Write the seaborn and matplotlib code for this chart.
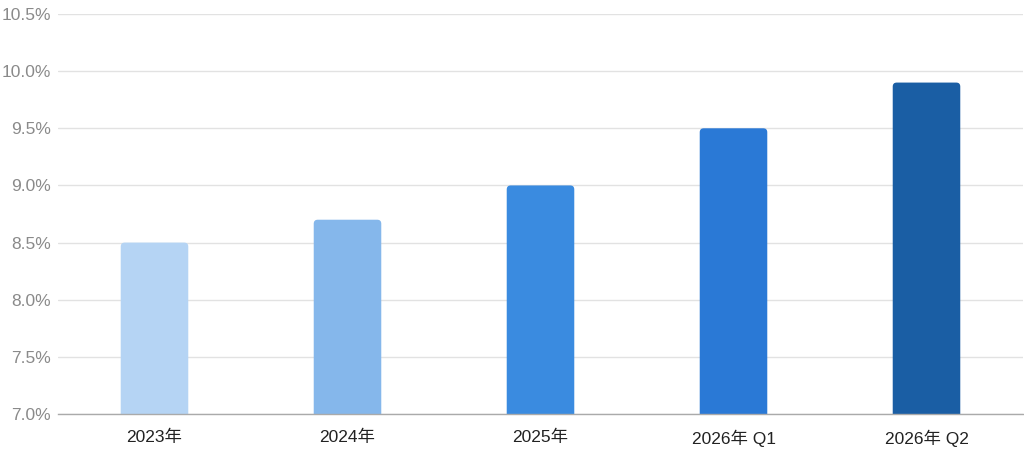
"""Bar chart of yearly / quarterly rate, rounded-top bars."""

import matplotlib

matplotlib.use("Agg")
import matplotlib.pyplot as plt
import numpy as np
import pandas as pd
import seaborn as sns
from matplotlib.patches import FancyBboxPatch
from matplotlib.ticker import FuncFormatter, MultipleLocator

periods = ["2023年", "2024年", "2025年", "2026年 Q1", "2026年 Q2"]
rates = [8.5, 8.7, 9.0, 9.5, 9.9]
bar_colors = ["#B5D4F4", "#85B7EB", "#3A8BE0", "#2A79D6", "#1A5EA4"]

df = pd.DataFrame({"period": periods, "rate": rates})

sns.set_style("white")
plt.rcParams["font.family"] = ["Liberation Sans", "Noto Sans CJK JP", "DejaVu Sans"]

fig = plt.figure(figsize=(10.24, 4.55), dpi=100)
ax = fig.add_axes([58 / 1024, 41 / 455, 965 / 1024, 400 / 455])

sns.barplot(
    data=df,
    x="period",
    y="rate",
    hue="period",
    palette=bar_colors,
    saturation=1,
    width=0.35,
    legend=False,
    ax=ax,
    zorder=3,
)

ax.set_ylim(7.0, 10.5)
ax.set_xlim(-0.5, len(periods) - 0.5)

# swap plain rectangles for ones with slightly rounded corners
px_x = 965 / len(periods)  # pixels per x unit
px_y = 400 / 3.5  # pixels per y unit
radius = 4 / px_x
for patch in list(ax.patches):
    x0, y0 = patch.get_x(), patch.get_y()
    w, h = patch.get_width(), patch.get_height()
    fc = patch.get_facecolor()
    patch.remove()
    rounded = FancyBboxPatch(
        (x0, y0),
        w,
        h,
        boxstyle=f"round,pad=0,rounding_size={radius}",
        mutation_aspect=px_x / px_y,
        facecolor=fc,
        edgecolor="none",
        zorder=3,
    )
    ax.add_patch(rounded)

ax.yaxis.set_major_locator(MultipleLocator(0.5))
ax.yaxis.set_major_formatter(FuncFormatter(lambda v, _: f"{v:.1f}%"))
ax.grid(axis="y", color="#E2E2E2", linewidth=1, zorder=0)
ax.set_axisbelow(True)

for side in ["top", "right", "left"]:
    ax.spines[side].set_visible(False)
ax.spines["bottom"].set_color("#AAAAAA")
ax.spines["bottom"].set_linewidth(1)
ax.spines["bottom"].set_zorder(4)

ax.tick_params(axis="y", length=0, pad=5, labelsize=12.5, labelcolor="#8A8A8A")
ax.tick_params(axis="x", length=0, pad=11, labelsize=12.5, labelcolor="#222222")
ax.set_xlabel("")
ax.set_ylabel("")

plt.savefig("out.png", dpi=100)
plt.close()
